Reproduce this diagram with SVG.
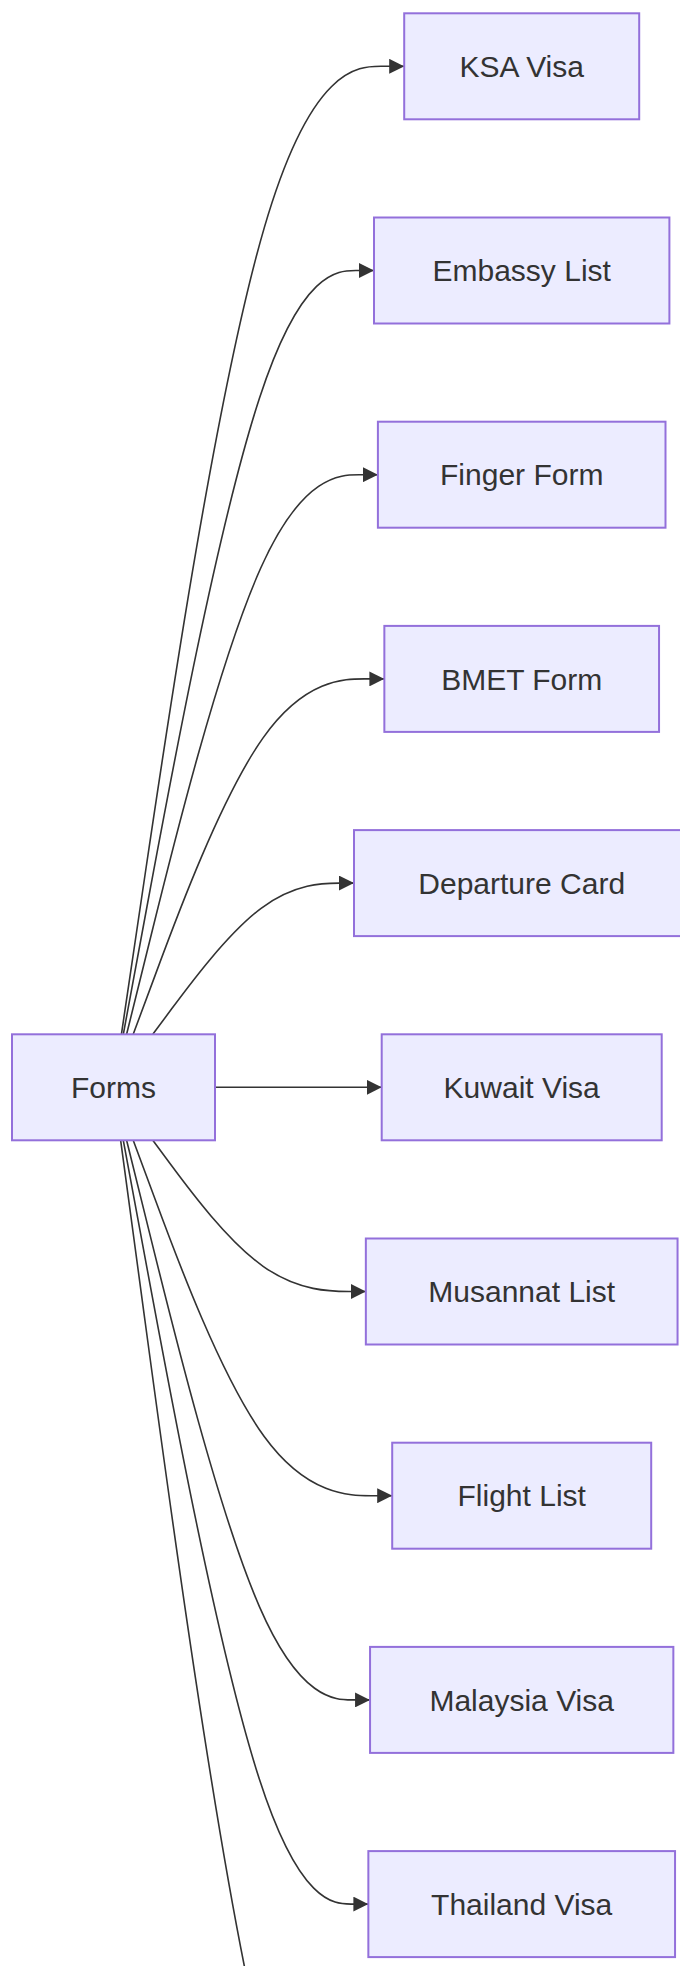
<svg xmlns="http://www.w3.org/2000/svg" width="680" height="1966" viewBox="0 0 680 1966">
<style>
.node rect{fill:#ECECFF;stroke:#9370DB;stroke-width:2}
.node text{font-family:"Liberation Sans",Arial,sans-serif;font-size:30px;fill:#333;text-anchor:middle}
.edges path{fill:none;stroke:#333;stroke-width:1.6}
</style>
<defs>
<marker id="arrow" markerUnits="userSpaceOnUse" markerWidth="15" markerHeight="15" viewBox="0 0 10 10" refX="10" refY="5" orient="auto">
<path d="M0,0 L10,5 L0,10 z" fill="#333"/>
</marker>
</defs>
<rect width="680" height="1966" fill="#fff"/>
<g class="edges">
<path marker-end="url(#arrow)" d="M121.4,1034.3 L145.3,873 C169.3,711.6 217.1,389 264.3,227.6 C311.4,66.3 357.8,66.3 381,66.3 L404.2,66.3"/>
<path marker-end="url(#arrow)" d="M123.3,1034.3 L146.9,907 C170.5,779.7 217.8,525.1 259.6,397.8 C301.3,270.5 337.7,270.5 355.8,270.5 L374,270.5"/>
<path marker-end="url(#arrow)" d="M126.6,1034.3 L149.7,941 C172.7,847.8 218.9,661.2 260.75,568 C302.6,474.7 340.3,474.7 359.1,474.7 L377.9,474.7"/>
<path marker-end="url(#arrow)" d="M133.2,1034.3 L155.2,975.1 C177.1,915.8 221.1,797.4 262.9,738.1 C304.8,678.9 344.6,678.9 364.5,678.9 L384.35,678.9"/>
<path marker-end="url(#arrow)" d="M152.8,1034.3 L171.5,1009.1 C190.2,983.9 227.6,933.5 261.1,908.3 C294.7,883.1 324.3,883.1 339.2,883.1 L354,883.1"/>
<path marker-end="url(#arrow)" d="M215,1087.3 L381.7,1087.3"/>
<path marker-end="url(#arrow)" d="M152.8,1140.3 L171.5,1165.5 C190.2,1190.7 227.6,1241.1 263.1,1266.3 C298.6,1291.5 332.2,1291.5 349,1291.5 L365.85,1291.5"/>
<path marker-end="url(#arrow)" d="M133.2,1140.3 L155.2,1199.5 C177.1,1258.8 221.1,1377.2 264.2,1436.5 C307.4,1495.7 349.8,1495.7 371,1495.7 L392.2,1495.7"/>
<path marker-end="url(#arrow)" d="M126.6,1140.3 L149.7,1233.6 C172.7,1326.8 218.9,1513.4 259.4,1606.6 C300,1699.9 335,1699.9 352.5,1699.9 L370.05,1699.9"/>
<path marker-end="url(#arrow)" d="M123.3,1140.3 L146.9,1267.6 C170.5,1394.9 217.8,1649.5 258.6,1776.8 C299.45,1904.1 333.9,1904.1 351.1,1904.1 L368.35,1904.1"/>
<path d="M120.65,1140.3 L144.7,1318.6 C168.8,1496.9 216.9,1853.4 258.4,2031.7 C300,2210 335,2210 352.5,2210 L370,2210"/>
</g>
<g id="forms" class="node"><rect x="12" y="1034.3" width="203" height="106"/><text x="113.5" y="1098">Forms</text></g>
<g id="ksa-visa" class="node"><rect x="404.2" y="13.3" width="235" height="106"/><text x="521.7" y="77">KSA Visa</text></g>
<g id="embassy-list" class="node"><rect x="374" y="217.5" width="295.4" height="106"/><text x="521.7" y="281.2">Embassy List</text></g>
<g id="finger-form" class="node"><rect x="377.9" y="421.7" width="287.6" height="106"/><text x="521.7" y="485.4">Finger Form</text></g>
<g id="bmet-form" class="node"><rect x="384.35" y="625.9" width="274.7" height="106"/><text x="521.7" y="689.6">BMET Form</text></g>
<g id="departure-card" class="node"><rect x="354" y="830.1" width="335.4" height="106"/><text x="521.7" y="893.8">Departure Card</text></g>
<g id="kuwait-visa" class="node"><rect x="381.7" y="1034.3" width="280" height="106"/><text x="521.7" y="1098">Kuwait Visa</text></g>
<g id="musannat-list" class="node"><rect x="365.85" y="1238.5" width="311.7" height="106"/><text x="521.7" y="1302.2">Musannat List</text></g>
<g id="flight-list" class="node"><rect x="392.2" y="1442.7" width="259" height="106"/><text x="521.7" y="1506.4">Flight List</text></g>
<g id="malaysia-visa" class="node"><rect x="370.05" y="1646.9" width="303.3" height="106"/><text x="521.7" y="1710.6">Malaysia Visa</text></g>
<g id="thailand-visa" class="node"><rect x="368.35" y="1851.1" width="306.7" height="106"/><text x="521.7" y="1914.8">Thailand Visa</text></g>
</svg>
